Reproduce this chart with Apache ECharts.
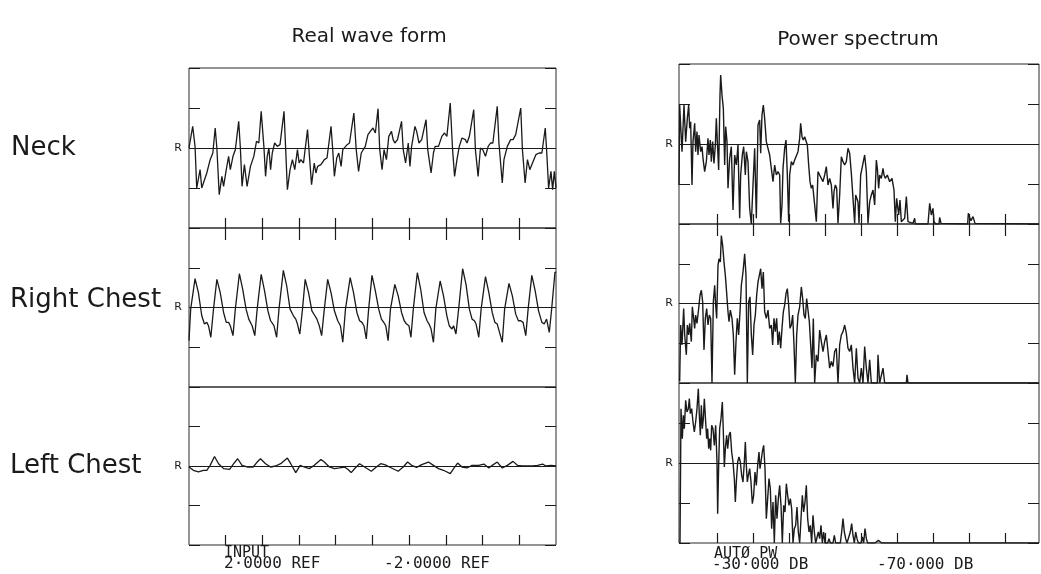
<!DOCTYPE html>
<html>
<head>
<meta charset="utf-8">
<script src="https://cdn.jsdelivr.net/npm/echarts@6/dist/echarts.min.js"></script>
<style>
  html, body { margin: 0; background: #fff; }
  #main { width: 1041px; height: 574px; }
</style>
</head>
<body>
<div id="main"></div>
<script>
// real wave form, [time, amplitude]  (amplitude scale: 120 = one tick = 1 V)
var neckWave = [[0,0],[11,65],[18,5],[23,-120],[33,-65],[38,-120],[43,-115],[53,-75],[63,-35],[71,-15],[78,60],[83,0],[90,-140],[98,-85],[103,-115],[111,-65],[118,-25],[123,-65],[131,-25],[138,-5],[148,80],[153,0],[158,-115],[165,-50],[173,-115],[183,-55],[193,-25],[201,20],[208,15],[215,110],[223,5],[228,-85],[233,-25],[238,0],[243,-65],[248,-15],[255,15],[263,5],[271,10],[283,110],[288,-5],[293,-125],[301,-65],[308,-35],[315,-65],[323,-5],[328,-45],[333,-35],[341,-45],[353,55],[358,-15],[365,-110],[373,-45],[378,-75],[383,-55],[393,-50],[403,-35],[411,-30],[423,65],[428,-5],[433,-85],[440,-30],[446,-15],[453,-55],[458,-5],[463,0],[471,10],[478,15],[491,105],[498,-5],[505,-70],[513,-15],[518,-20],[525,5],[533,40],[540,50],[548,60],[555,45],[563,118],[568,-5],[575,-65],[581,-5],[588,-35],[595,35],[603,50],[608,25],[613,15],[621,25],[633,80],[638,-5],[645,-45],[653,15],[658,-55],[663,5],[673,65],[678,50],[685,15],[693,25],[706,85],[711,-5],[721,-75],[728,-15],[733,5],[743,5],[753,35],[761,45],[768,35],[778,135],[785,-5],[791,-85],[798,-35],[805,5],[813,30],[823,25],[828,15],[835,35],[848,115],[853,-5],[861,-85],[868,0],[875,-5],[883,-25],[891,5],[898,15],[905,15],[918,125],[923,15],[933,-105],[938,-35],[948,5],[958,25],[965,25],[973,40],[988,120],[993,-5],[1001,-105],[1008,-35],[1015,-65],[1023,-45],[1033,-20],[1043,-15],[1051,-15],[1061,60],[1065,-5],[1071,-120],[1078,-70],[1083,-125],[1088,-70],[1093,-120]];

var rightChestWave = [[0,-100],[5,-5],[18,87],[28,45],[38,-25],[46,-50],[53,-45],[58,-55],[65,-90],[73,-5],[83,85],[93,45],[103,-15],[111,-45],[118,-45],[123,-55],[131,-85],[138,-5],[150,102],[160,55],[170,-5],[178,-35],[183,-40],[188,-55],[196,-85],[203,-5],[215,100],[225,50],[235,-10],[243,-40],[253,-55],[261,-90],[268,-5],[281,112],[291,65],[301,-5],[311,-25],[318,-35],[323,-50],[330,-80],[338,-5],[346,85],[356,45],[366,-10],[375,-25],[381,-35],[388,-55],[395,-85],[403,-5],[413,85],[423,45],[433,-10],[443,-40],[451,-55],[458,-105],[466,-5],[480,90],[490,45],[500,-15],[508,-40],[515,-45],[521,-55],[528,-95],[535,-5],[545,97],[555,50],[565,-5],[573,-35],[580,-45],[586,-55],[593,-100],[600,-5],[613,70],[623,35],[633,-15],[641,-40],[648,-50],[655,-55],[661,-90],[668,-5],[680,105],[690,55],[700,-15],[709,-40],[715,-50],[721,-65],[728,-105],[735,-5],[748,80],[758,35],[768,-25],[775,-55],[783,-65],[788,-55],[795,-80],[803,-5],[815,117],[825,70],[835,-5],[843,-35],[850,-40],[855,-50],[863,-90],[870,-5],[883,93],[893,45],[903,-15],[911,-45],[918,-50],[923,-55],[933,-105],[940,-5],[953,73],[963,35],[973,-20],[981,-40],[988,-40],[995,-45],[1003,-85],[1010,-5],[1021,97],[1031,50],[1041,-10],[1051,-45],[1058,-50],[1065,-35],[1073,-75],[1080,-5],[1090,107],[1093,105]];

var leftChestWave = [[0,-3],[13,-13],[28,-18],[43,-13],[53,-13],[63,2],[76,29],[88,7],[103,-8],[121,-10],[133,7],[145,22],[158,2],[173,-3],[191,-3],[203,12],[213,22],[228,7],[243,-3],[258,0],[273,7],[293,24],[303,7],[318,-20],[331,2],[343,-3],[358,-8],[373,2],[393,20],[403,12],[418,-3],[433,-8],[448,-6],[463,-3],[473,-10],[483,-20],[495,-6],[508,7],[523,-3],[543,-16],[558,-3],[571,7],[583,4],[603,-6],[623,-16],[638,-3],[651,12],[663,2],[678,-4],[693,4],[713,12],[728,2],[743,-8],[758,-13],[778,-23],[788,-8],[800,9],[813,-3],[828,-6],[843,2],[863,2],[878,6],[893,-6],[903,2],[918,12],[933,-6],[948,2],[965,14],[978,2],[993,0],[1008,0],[1023,0],[1038,2],[1053,6],[1063,0],[1078,2],[1093,0]];

// power spectrum, [frequency bin, level above floor]  (120 = one tick)
var neckSpec = [[0,117],[2,357],[9,217],[15,357],[20,247],[25,317],[29,357],[32,287],[35,307],[39,117],[42,247],[47,302],[50,217],[54,277],[57,207],[60,267],[65,217],[69,232],[72,197],[77,157],[82,187],[87,257],[90,207],[94,252],[97,187],[101,247],[105,182],[109,237],[112,317],[115,247],[119,162],[123,387],[125,447],[129,387],[133,347],[137,177],[140,292],[144,247],[147,107],[152,197],[157,232],[162,42],[167,207],[172,177],[177,237],[182,17],[185,147],[190,207],[194,232],[199,147],[202,217],[207,187],[212,47],[217,0],[222,117],[227,227],[232,17],[237,297],[242,312],[245,212],[249,327],[253,357],[257,317],[262,247],[267,227],[272,207],[277,167],[282,127],[287,177],[292,147],[297,157],[302,147],[305,2],[309,57],[312,167],[317,227],[321,252],[325,147],[329,7],[332,147],[337,187],[342,177],[347,192],[352,197],[357,217],[362,257],[365,302],[369,262],[373,252],[377,262],[381,265],[385,237],[389,177],[393,127],[397,107],[401,117],[405,77],[409,37],[412,7],[417,157],[422,147],[427,137],[432,127],[437,147],[442,172],[447,117],[452,137],[457,117],[462,47],[465,97],[469,117],[473,107],[477,2],[482,87],[487,202],[492,187],[497,177],[502,187],[507,227],[512,212],[517,152],[522,147],[527,2],[530,87],[534,92],[537,67],[540,2],[545,147],[552,182],[557,207],[562,157],[567,2],[572,67],[577,87],[582,102],[587,57],[592,192],[595,167],[599,107],[602,147],[607,137],[612,167],[615,147],[619,137],[625,147],[632,127],[639,137],[645,102],[649,7],[653,77],[659,27],[663,72],[667,7],[673,7],[677,17],[682,82],[687,7],[692,2],[702,2],[707,17],[709,0],[747,0],[752,62],[757,27],[762,47],[765,7],[770,0],[780,0],[782,20],[786,2],[790,0],[866,0],[868,32],[872,20],[876,10],[882,22],[888,2],[892,0],[1080,0]];

var rightChestSpec = [[2,5],[5,175],[9,115],[14,225],[17,145],[22,85],[25,175],[29,145],[32,180],[37,125],[40,230],[44,195],[47,165],[50,205],[54,180],[59,225],[63,265],[67,280],[71,245],[75,100],[79,195],[83,225],[87,175],[91,205],[95,195],[99,0],[103,245],[107,295],[110,235],[113,195],[117,355],[120,375],[124,365],[127,445],[131,415],[135,365],[139,325],[142,285],[147,215],[150,185],[154,220],[159,195],[163,145],[167,25],[171,125],[175,195],[179,145],[183,215],[187,295],[192,335],[197,390],[201,325],[205,0],[209,245],[213,260],[217,145],[221,85],[225,175],[229,205],[233,265],[237,305],[241,325],[245,345],[249,285],[253,335],[257,215],[262,195],[267,220],[272,165],[277,175],[281,115],[285,195],[289,155],[293,195],[297,115],[301,155],[305,105],[309,165],[313,215],[317,235],[321,270],[325,285],[329,235],[333,165],[337,175],[341,205],[345,115],[349,0],[353,145],[357,205],[362,230],[367,290],[371,255],[375,205],[379,195],[383,255],[387,260],[391,185],[395,115],[399,45],[403,195],[407,0],[412,85],[417,65],[422,160],[427,125],[432,95],[437,125],[442,145],[447,95],[452,45],[457,65],[462,50],[467,95],[472,105],[477,0],[482,115],[487,145],[492,155],[497,175],[502,150],[507,105],[512,95],[517,115],[522,45],[527,0],[532,105],[537,15],[542,0],[547,45],[552,0],[557,110],[562,45],[567,0],[572,70],[577,0],[595,0],[597,85],[602,0],[612,45],[617,0],[682,0],[684,25],[687,0],[1080,0]];

var leftChestSpec = [[3,0],[6,403],[10,313],[13,383],[16,343],[20,428],[24,393],[28,403],[31,433],[34,388],[38,403],[42,363],[46,333],[50,363],[54,403],[58,463],[61,383],[64,323],[67,413],[70,343],[73,373],[76,433],[80,363],[83,313],[86,343],[89,283],[92,313],[95,278],[98,353],[102,343],[106,293],[110,353],[114,243],[116,88],[119,233],[122,343],[126,373],[130,423],[133,333],[136,228],[139,283],[143,323],[146,283],[150,323],[154,333],[158,273],[162,243],[166,193],[169,123],[172,183],[176,243],[180,258],[184,243],[188,203],[192,183],[196,243],[199,303],[202,233],[205,183],[208,203],[212,223],[216,183],[220,118],[224,143],[228,213],[232,173],[236,233],[240,273],[243,223],[246,243],[250,273],[254,293],[258,223],[262,73],[266,133],[270,193],[274,163],[278,43],[282,123],[286,0],[290,143],[294,73],[298,133],[302,173],[306,113],[310,0],[314,113],[318,93],[322,178],[326,143],[330,113],[334,133],[338,103],[342,0],[346,43],[350,53],[354,108],[358,33],[362,0],[366,73],[370,143],[374,93],[378,123],[382,173],[386,73],[390,33],[394,53],[398,0],[402,83],[406,33],[410,0],[414,0],[418,33],[422,13],[426,53],[430,0],[434,33],[438,0],[446,0],[450,13],[454,0],[462,0],[466,23],[470,0],[484,0],[488,33],[492,73],[496,33],[500,13],[504,0],[510,0],[514,33],[518,58],[522,23],[526,0],[530,33],[534,13],[538,0],[546,0],[550,18],[554,0],[558,43],[562,13],[566,0],[588,0],[598,8],[608,0],[1080,0]];

// tick positions
var waveTicks = [109, 219, 328, 437, 547, 656, 765, 874, 984];
var specTicks = [114, 222, 330, 438, 546, 654, 762, 870, 978];

var rowNames = ['Neck', 'Right Chest', 'Left Chest'];

var chart = echarts.init(document.getElementById('main'));

var panels = [
    { grid: { left: 189, top: 68, width: 367, height: 160 }, data: neckWave, wave: true, tick: 'bottom' },
    { grid: { left: 189, top: 228, width: 367, height: 159 }, data: rightChestWave, wave: true, tick: 'top' },
    { grid: { left: 189, top: 387, width: 367, height: 158 }, data: leftChestWave, wave: true, tick: 'bottom' },
    { grid: { left: 679, top: 64, width: 360, height: 160 }, data: neckSpec, wave: false, tick: 'bottom' },
    { grid: { left: 679, top: 224, width: 360, height: 159 }, data: rightChestSpec, wave: false, tick: 'top' },
    { grid: { left: 679, top: 383, width: 360, height: 160 }, data: leftChestSpec, wave: false, tick: 'bottom' }
];

var ink = '#1a1a1a';
var grids = [], xAxes = [], yAxes = [], series = [];

panels.forEach(function (p, i) {
    var ymin = p.wave ? -240 : 0;
    var ymax = p.wave ? 240 : 480;
    var mid = p.wave ? 0 : 240;

    grids.push(Object.assign({ show: true, borderColor: '#2a2a2a', borderWidth: 1 }, p.grid));

    xAxes.push({
        type: 'value', gridIndex: i, position: p.tick,
        min: 0, max: p.wave ? 1093 : 1080,
        axisLine: { show: false, onZero: false },
        axisTick: { show: true, inside: true, length: p.tick === 'top' ? 12 : 10,
                    customValues: p.wave ? waveTicks : specTicks,
                    lineStyle: { color: ink, width: 1.2 } },
        axisLabel: { show: false },
        splitLine: { show: false }
    });

    [ 'left', 'right' ].forEach(function (side) {
        yAxes.push({
            type: 'value', gridIndex: i, position: side,
            min: ymin, max: ymax, interval: 120,
            axisLine: { show: false, onZero: false },
            axisTick: { show: true, inside: true, length: 11, lineStyle: { color: ink, width: 1 } },
            axisLabel: {
                show: side === 'left', margin: p.wave ? 7 : 6,
                fontFamily: 'DejaVu Sans', fontSize: 11, color: ink,
                formatter: function (v) { return v === mid ? 'R' : ''; }
            },
            splitLine: { show: false }
        });
    });

    series.push({
        type: 'line', xAxisIndex: i, yAxisIndex: i * 2,
        data: p.data, showSymbol: false, silent: true,
        lineStyle: { color: ink, width: p.wave ? 1.3 : 1.4 },
        markLine: {
            silent: true, symbol: ['none', 'none'],
            label: { show: false },
            lineStyle: { color: ink, width: 1, type: 'solid' },
            data: [{ yAxis: mid }]
        }
    });
});

function txt(x, y, s, font, align) {
    return { type: 'text', x: x, y: y, silent: true,
             style: { text: s, font: font, fill: ink, textAlign: align || 'left', textVerticalAlign: 'middle' } };
}

var sans = '"DejaVu Sans"';
var mono = '"DejaVu Sans Mono"';

chart.setOption({
    animation: false,
    backgroundColor: '#fff',
    grid: grids,
    xAxis: xAxes,
    yAxis: yAxes,
    series: series,
    graphic: [
        txt(369, 37, 'Real wave form', '20px ' + sans, 'center'),
        txt(858, 40, 'Power spectrum', '20px ' + sans, 'center'),
        txt(11, 148, rowNames[0], '26px ' + sans),
        txt(10, 300, rowNames[1], '26px ' + sans),
        txt(10, 466, rowNames[2], '26px ' + sans),
        txt(224, 553, 'INPUT', '15px ' + mono),
        txt(224, 564, '2·0000 REF', '16px ' + mono),
        txt(384, 564, '-2·0000 REF', '16px ' + mono),
        txt(714, 554, 'AUTØ PW', '15px ' + mono),
        txt(712, 565, '-30·000 DB', '16px ' + mono),
        txt(877, 565, '-70·000 DB', '16px ' + mono)
    ]
});
</script>
</body>
</html>
